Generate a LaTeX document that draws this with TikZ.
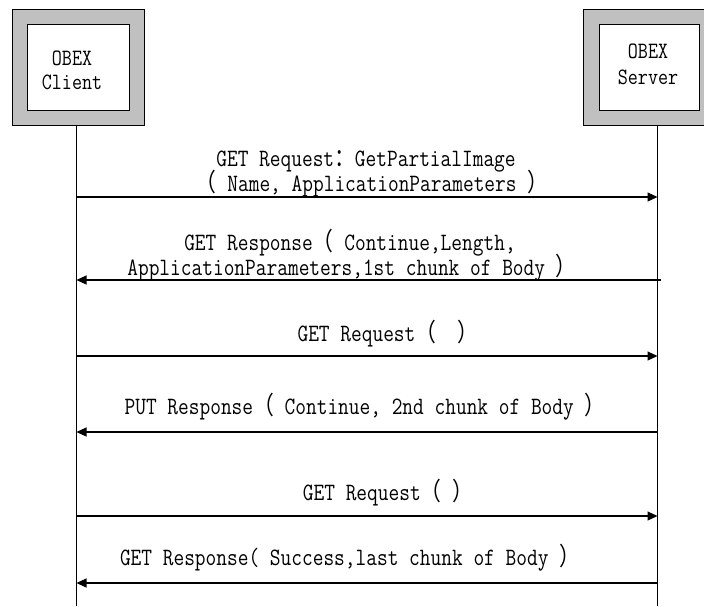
\documentclass[tikz,border=0pt]{standalone}
\usepackage{fontspec}
\usepackage{graphicx}
\newfontfamily\cjk{Noto Sans CJK SC}
\newcommand\tallt[1]{\scalebox{1}[1.2]{#1}}
\usetikzlibrary{arrows.meta}
\definecolor{boxgray}{HTML}{C0C0C0}
\begin{document}
\begin{tikzpicture}[x=1pt,y=-1pt,
  lbl/.style={font=\fontsize{20.8}{24}\selectfont\ttfamily, anchor=base, inner sep=0pt},
  boxlbl/.style={font=\fontsize{19.5}{25}\selectfont\ttfamily, inner sep=0pt},
  outerbox/.style={draw=black, fill=boxgray, line width=0.8pt, inner sep=0pt},
  innerbox/.style={draw=black, fill=white, line width=0.8pt, inner sep=0pt},
  life/.style={line width=0.8pt},
  msg/.style={line width=1.1pt, -{Triangle[length=10pt,width=9pt]}}]
\useasboundingbox (0,0) rectangle (704,606);
\clip (0,0) rectangle (704,606);
% client box
\node[outerbox, minimum width=132pt, minimum height=116pt] (cout) at (78,67.5) {};
\node[innerbox, minimum width=102pt, minimum height=86pt] (cin) at (78,67) {};
\node[boxlbl, anchor=base] (clbl1) at (72,65) {\tallt{OBEX}};
\node[boxlbl, anchor=base] (clbl2) at (72,89) {\tallt{Client}};
% server box
\node[outerbox, minimum width=132pt, minimum height=116pt] (sout) at (649,67) {};
\node[innerbox, minimum width=100pt, minimum height=86pt] (sin) at (649,67) {};
\node[boxlbl, anchor=base] (slbl1) at (648,58) {\tallt{OBEX}};
\node[boxlbl, anchor=base] (slbl2) at (648,84) {\tallt{Server}};
% lifelines
\coordinate (ctop) at (76,125.5);
\coordinate (cbot) at (76,606);
\coordinate (stop) at (657.5,125);
\coordinate (sbot) at (657.5,606);
\draw[life] (ctop) -- (cbot);
\draw[life] (stop) -- (sbot);
% message endpoints
\coordinate (m1a) at (76,197);   \coordinate (m1b) at (657.5,197);
\coordinate (m2a) at (76.5,280); \coordinate (m2b) at (661,280);
\coordinate (m3a) at (76,356);   \coordinate (m3b) at (657.5,356);
\coordinate (m4a) at (76.5,432); \coordinate (m4b) at (657.5,432);
\coordinate (m5a) at (76,516);   \coordinate (m5b) at (657.5,516);
\coordinate (m6a) at (76.5,583); \coordinate (m6b) at (657.5,583);
\draw[msg] (m1a) -- (m1b);
\draw[msg] (m2b) -- (m2a);
\draw[msg] (m3a) -- (m3b);
\draw[msg] (m4b) -- (m4a);
\draw[msg] (m5a) -- (m5b);
\draw[msg] (m6b) -- (m6a);
% labels
\node[lbl] (t1a) at (366,166) {\tallt{GET Request{\cjk ：}GetPartialImage}};
\node[lbl] (t1b) at (372,191) {\tallt{{\cjk （} Name, ApplicationParameters {\cjk ）}}};
\node[lbl] (t2a) at (350,250) {\tallt{GET Response{\cjk （} Continue,Length,}};
\node[lbl] (t2b) at (352,275) {\tallt{ApplicationParameters,1st chunk of Body {\cjk ）}}};
\node[lbl] (t3) at (388,341) {\tallt{GET Request{\cjk （}\ \ {\cjk ）}}};
\node[lbl] (t4) at (365,414) {\tallt{PUT Response{\cjk （} Continue, 2nd chunk of Body {\cjk ）}}};
\node[lbl] (t5) at (388,500) {\tallt{GET Request{\cjk （}\ {\cjk ）}}};
\node[lbl] (t6) at (350,565) {\tallt{GET Response( Success,last chunk of Body {\cjk ）}}};
\end{tikzpicture}
\end{document}
